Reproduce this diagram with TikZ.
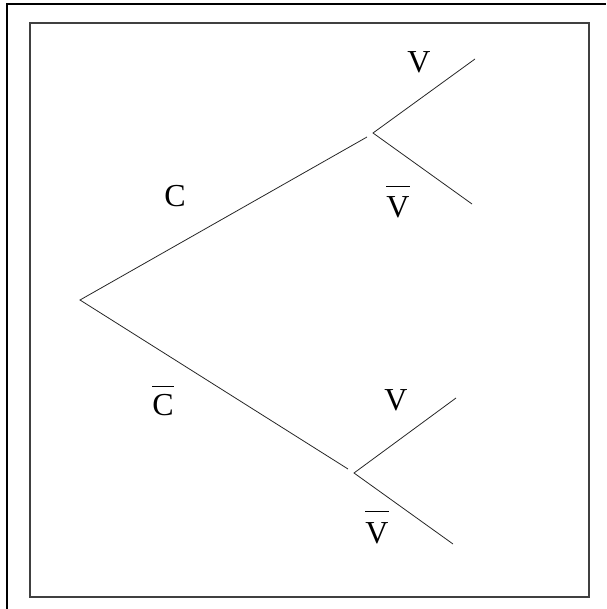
\documentclass[tikz,border=0pt]{standalone}
\usepackage{fontspec}
\setmainfont{Liberation Serif}
\newcommand\ovbar[2]{\vbox{\hrule height 0.9pt\kern #1\hbox{#2}}}
\tikzset{
  lbl/.style={anchor=base, inner sep=0pt, font=\fontsize{32}{36}\selectfont},
  branch/.style={line width=0.8pt, black!85},
}
\begin{document}
\begin{tikzpicture}[x=1pt,y=-1pt]
\useasboundingbox (0,0) rectangle (606,609);
% frames
\draw[line width=1.6pt] (7,609) -- (7,4) -- (606,4);
\draw[line width=1.6pt, black!75] (30,23) rectangle (589,597);
% tree points
\coordinate (r) at (80,300);
\coordinate (ue) at (367,137);
\coordinate (us) at (373,133);
\coordinate (uv) at (475,59);
\coordinate (unv) at (472,204);
\coordinate (le) at (348,469);
\coordinate (ls) at (354,473);
\coordinate (lv) at (456,398);
\coordinate (lnv) at (453,544);
\draw[branch] (ue) -- (r) -- (le);
\draw[branch] (uv) -- (us) -- (unv);
\draw[branch] (lv) -- (ls) -- (lnv);
% labels
\node[lbl] (tC) at (175,207) {C};
\node[lbl] (tCb) at (163,415) {\ovbar{7pt}{C}};
\node[lbl] (tV1) at (419,73) {V};
\node[lbl] (tVb1) at (398,218) {\ovbar{10pt}{V}};
\node[lbl] (tV2) at (396,410) {V};
\node[lbl] (tVb2) at (377,543) {\ovbar{10pt}{V}};
\end{tikzpicture}
\end{document}
